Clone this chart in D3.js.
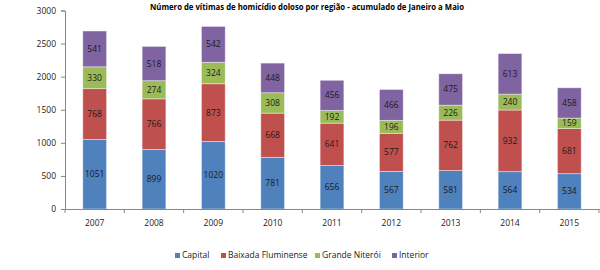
<!DOCTYPE html>
<html>
<head>
<meta charset="utf-8">
<script src="https://cdn.jsdelivr.net/npm/d3@7"></script>
<style>
  body { margin: 0; background: #fff; }
  svg { display: block; font-family: "Open Sans", "DejaVu Sans", sans-serif; }
</style>
</head>
<body>
<div id="chart"></div>
<script>
// data
const years = ["2007", "2008", "2009", "2010", "2011", "2012", "2013", "2014", "2015"];
const series = ["Capital", "Baixada Fluminense", "Grande Niterói", "Interior"];
const capital = [1051, 899, 1020, 781, 656, 567, 581, 564, 534];
const baixada = [768, 766, 873, 668, 641, 577, 762, 932, 681];
const niteroi = [330, 274, 324, 308, 192, 196, 226, 240, 159];
const interior = [541, 518, 542, 448, 456, 466, 475, 613, 458];
const yTicks = [0, 500, 1000, 1500, 2000, 2500, 3000];
const colors = ["#4F81BD", "#C0504D", "#9BBB59", "#8064A2"];

const width = 600, height = 270;
const margin = { left: 65, right: 1, top: 10.5, bottom: 61 };

const svg = d3.select("#chart").append("svg")
  .attr("width", width)
  .attr("height", height);

// title
svg.append("text")
  .attr("x", 307)
  .attr("y", 10)
  .attr("text-anchor", "middle")
  .attr("font-size", 8.5)
  .attr("font-weight", "bold")
  .attr("fill", "#000")
  .attr("textLength", 314)
  .attr("lengthAdjust", "spacingAndGlyphs")
  .text("Número de vítimas de homicídio doloso por região - acumulado de Janeiro a Maio");

const x = d3.scaleBand()
  .domain(years)
  .range([margin.left, width - margin.right])
  .paddingInner(0.6)
  .paddingOuter(0.3);

const y = d3.scaleLinear()
  .domain([0, 3000])
  .range([height - margin.bottom, margin.top]);

const table = years.map((yr, i) => ({
  year: yr,
  "Capital": capital[i],
  "Baixada Fluminense": baixada[i],
  "Grande Niterói": niteroi[i],
  "Interior": interior[i]
}));

const stacked = d3.stack().keys(series)(table);

// bars
const layers = svg.append("g")
  .selectAll("g")
  .data(stacked)
  .enter()
  .append("g")
  .attr("fill", (d, i) => colors[i]);

layers.selectAll("rect")
  .data(d => d)
  .enter()
  .append("rect")
  .attr("x", d => x(d.data.year))
  .attr("y", d => y(d[1]))
  .attr("width", x.bandwidth())
  .attr("height", d => y(d[0]) - y(d[1]))
  .attr("stroke", "rgba(255,255,255,0.5)")
  .attr("stroke-width", 0.8);

// value labels
layers.selectAll("text")
  .data(d => d)
  .enter()
  .append("text")
  .attr("x", d => x(d.data.year) + x.bandwidth() / 2)
  .attr("y", d => (y(d[0]) + y(d[1])) / 2 + 3)
  .attr("text-anchor", "middle")
  .attr("font-size", 8.5)
  .attr("fill", "#1a1a1a")
  .text(d => d[1] - d[0]);

// y axis
const yAxis = svg.append("g")
  .attr("transform", `translate(${margin.left},0)`)
  .call(d3.axisLeft(y).tickValues(yTicks).tickFormat(d3.format("d")).tickSize(4).tickPadding(5));

// x axis
const xAxis = svg.append("g")
  .attr("transform", `translate(0,${height - margin.bottom})`)
  .call(d3.axisBottom(x).tickSize(0).tickPadding(11));

// tick marks between categories
xAxis.selectAll(".sep")
  .data(d3.range(years.length + 1))
  .enter()
  .append("line")
  .attr("class", "sep")
  .attr("x1", i => margin.left + i * (width - margin.right - margin.left) / years.length)
  .attr("x2", i => margin.left + i * (width - margin.right - margin.left) / years.length)
  .attr("y1", 0)
  .attr("y2", 4)
  .attr("stroke", "#868686");

[yAxis, xAxis].forEach(a => {
  a.selectAll("path, line").attr("stroke", "#868686");
  a.selectAll("text").attr("font-size", 8.5).attr("fill", "#222").attr("font-family", "\"Open Sans\", \"DejaVu Sans\", sans-serif");
});

// legend
const legendX = [175, 221, 315, 392];
const legend = svg.append("g")
  .selectAll("g")
  .data(series)
  .enter()
  .append("g")
  .attr("transform", (d, i) => `translate(${legendX[i]},258)`);

legend.append("rect")
  .attr("x", 0)
  .attr("y", -5)
  .attr("width", 5)
  .attr("height", 5)
  .attr("fill", (d, i) => colors[i]);

legend.append("text")
  .attr("x", 7)
  .attr("y", 0)
  .attr("font-size", 8.5)
  .attr("fill", "#222")
  .text(d => d);
</script>
</body>
</html>
